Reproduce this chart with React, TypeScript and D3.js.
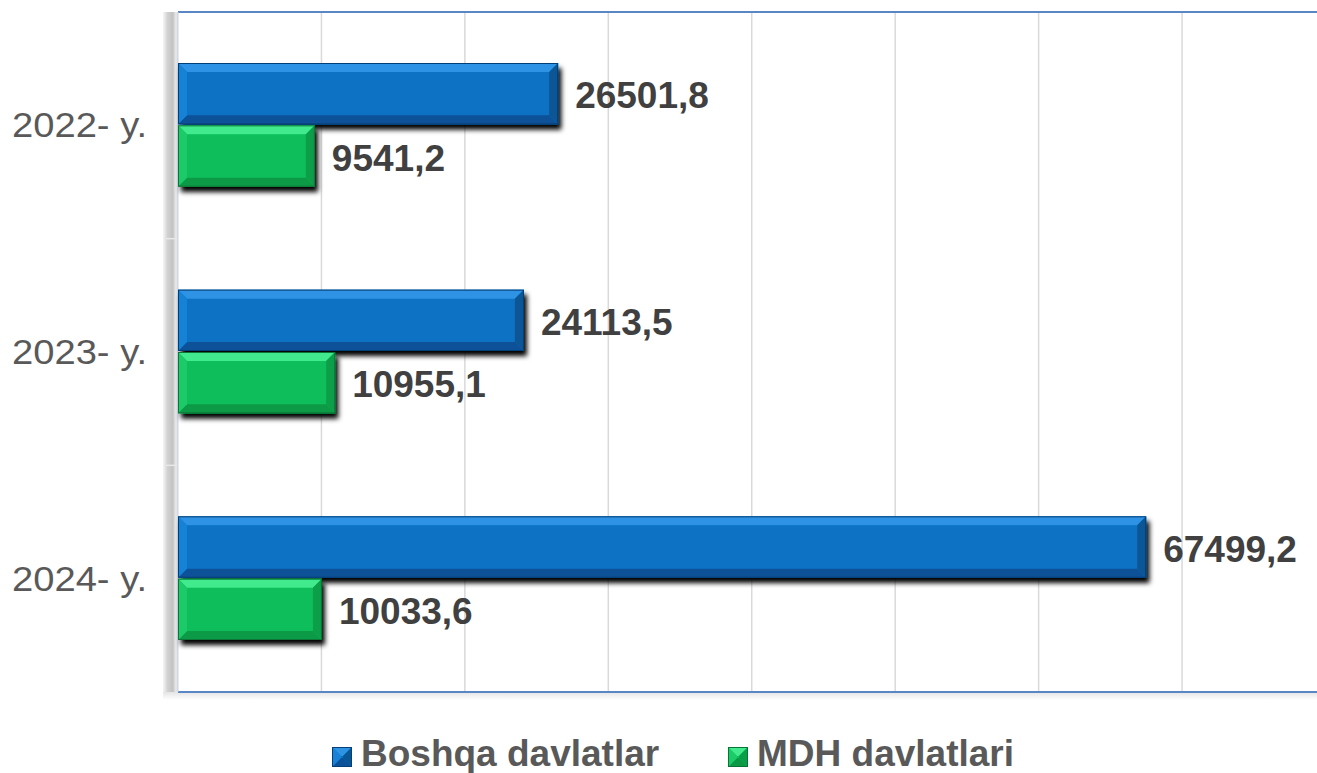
import React from "react";
import * as d3 from "d3";

const categories = ["2022- y.", "2023- y.", "2024- y."];
const seriesNames = ["Boshqa davlatlar", "MDH davlatlari"];
const boshqaValues = [26501.8, 24113.5, 67499.2];
const mdhValues = [9541.2, 10955.1, 10033.6];
const xTicks = [10000, 20000, 30000, 40000, 50000, 60000, 70000, 80000];

const W = 1317;
const H = 773;
const plotL = 178;
const plotR = 1317;
const plotT = 12;
const plotB = 692;

const palettes = [
  { body: "#0872C4", top: "#2F93E4", left: "#1982D6", right: "#085795", bottom: "#0A5199", edge: "#063F78" },
  { body: "#0DBE5A", top: "#41EA8D", left: "#1ACB68", right: "#0A9E49", bottom: "#0A9A46", edge: "#077535" },
];

const fmt = (v: number) => v.toFixed(1).replace(".", ",");

function BevelBar({ x0, x1, y0, h, p, filter, bev = 9 }: any) {
  const b = Math.min(bev, (x1 - x0) / 2, h / 2);
  const xa = x0, xb = x1, ya = y0, yb = y0 + h;
  return (
    <g filter={filter}>
      <rect x={xa} y={ya} width={xb - xa} height={h} fill={p.body} />
      <polygon points={`${xa},${ya} ${xb},${ya} ${xb - b},${ya + b} ${xa + b},${ya + b}`} fill={p.top} />
      <polygon points={`${xa},${yb} ${xb},${yb} ${xb - b},${yb - b} ${xa + b},${yb - b}`} fill={p.bottom} />
      <polygon points={`${xa},${ya} ${xa + b},${ya + b} ${xa + b},${yb - b} ${xa},${yb}`} fill={p.left} />
      <polygon points={`${xb},${ya} ${xb - b},${ya + b} ${xb - b},${yb - b} ${xb},${yb}`} fill={p.right} />
      <rect x={xa + 0.5} y={ya + 0.5} width={xb - xa - 1} height={h - 1} fill="none" stroke={p.edge} strokeWidth={1} />
    </g>
  );
}

export default function App() {
  const x = d3.scaleLinear().domain([0, 80000]).range([plotL, plotL + 1147.5]);
  const y0 = d3.scaleBand<string>().domain(categories).range([plotT, plotB]).paddingInner(0.45).paddingOuter(0.225);
  const y1 = d3.scaleBand<string>().domain(seriesNames).range([0, y0.bandwidth()]);
  const yStep = d3.scaleBand<string>().domain(categories).range([plotT, plotB]);
  const data = [boshqaValues, mdhValues];
  const font = "'Liberation Sans', Arial, sans-serif";

  return (
    <svg width={W} height={H} style={{ position: "absolute", left: 0, top: 0, background: "#fff" }}>
      <defs>
        <filter id="shadow" x="-5%" y="-30%" width="115%" height="170%">
          <feDropShadow dx={3} dy={5} stdDeviation={2.5} floodColor="#000" floodOpacity={1} />
        </filter>
        <linearGradient id="wall" x1="0" x2="1" y1="0" y2="0">
          <stop offset="0" stopColor="#f6f6f6" />
          <stop offset="0.3" stopColor="#d2d2d2" />
          <stop offset="0.65" stopColor="#c2c2c2" />
          <stop offset="0.85" stopColor="#e8e8e8" />
          <stop offset="1" stopColor="#d8dde6" />
        </linearGradient>
        <linearGradient id="floor" x1="0" x2="0" y1="0" y2="1">
          <stop offset="0" stopColor="#e4e4e4" />
          <stop offset="1" stopColor="#ffffff" />
        </linearGradient>
      </defs>

      {/* wall and floor */}
      <rect x={163} y={plotT} width={plotL - 163} height={plotB - plotT + 6} fill="url(#wall)" />
      <rect x={163} y={plotB} width={plotR - 163} height={8} fill="url(#floor)" />

      {/* gridlines */}
      {xTicks.map((t) => (
        <line key={t} x1={x(t)} x2={x(t)} y1={plotT} y2={plotB} stroke="#D9D9D9" strokeWidth={1.5} />
      ))}

      {/* category separators */}
      {categories.slice(1).map((c) => (
        <line key={c} x1={166} x2={plotL} y1={yStep(c)} y2={yStep(c)} stroke="#e8e8e8" strokeWidth={1.5} />
      ))}

      {/* borders */}
      <line x1={plotL} x2={plotR} y1={plotT} y2={plotT} stroke="#5B86C5" strokeWidth={2} />
      <line x1={plotL} x2={plotR} y1={plotB} y2={plotB} stroke="#5B86C5" strokeWidth={2} />
      <line x1={plotL} x2={plotL} y1={plotT} y2={plotB} stroke="#c9d3e3" strokeWidth={1} />

      {/* bars */}
      {categories.map((c, ci) => (
        <g key={c}>
          {seriesNames.map((s, si) => {
            const v = data[si][ci];
            const yy = (y0(c) as number) + (y1(s) as number);
            const h = y1.bandwidth() - 1;
            return (
              <BevelBar key={s} x0={x(0)} x1={x(v)} y0={yy} h={h} p={palettes[si]} filter="url(#shadow)" />
            );
          })}
        </g>
      ))}

      {/* value labels */}
      {categories.map((c, ci) =>
        seriesNames.map((s, si) => {
          const v = data[si][ci];
          const yy = (y0(c) as number) + (y1(s) as number) + y1.bandwidth() / 2;
          return (
            <text key={c + s} x={x(v) + 17} y={yy + 14} fontFamily={font} fontSize={37} fontWeight="bold" fill="#404040">
              {fmt(v)}
            </text>
          );
        })
      )}

      {/* category labels */}
      {categories.map((c) => (
        <text
          key={c}
          x={12}
          y={(y0(c) as number) + y0.bandwidth() / 2 + 12}
          textLength={135}
          lengthAdjust="spacingAndGlyphs"
          fontFamily={font}
          fontSize={35}
          fill="#595959"
        >
          {c}
        </text>
      ))}

      {/* legend */}
      {[
        { name: seriesNames[0], sx: 332, tx: 361, p: palettes[0] },
        { name: seriesNames[1], sx: 728, tx: 757, p: palettes[1] },
      ].map((l) => (
        <g key={l.name}>
          <BevelBar x0={l.sx} x1={l.sx + 20} y0={747} h={20} p={l.p} bev={9} />
          <text x={l.tx} y={766} fontFamily={font} fontSize={37} fontWeight="bold" fill="#595959">
            {l.name}
          </text>
        </g>
      ))}
    </svg>
  );
}
